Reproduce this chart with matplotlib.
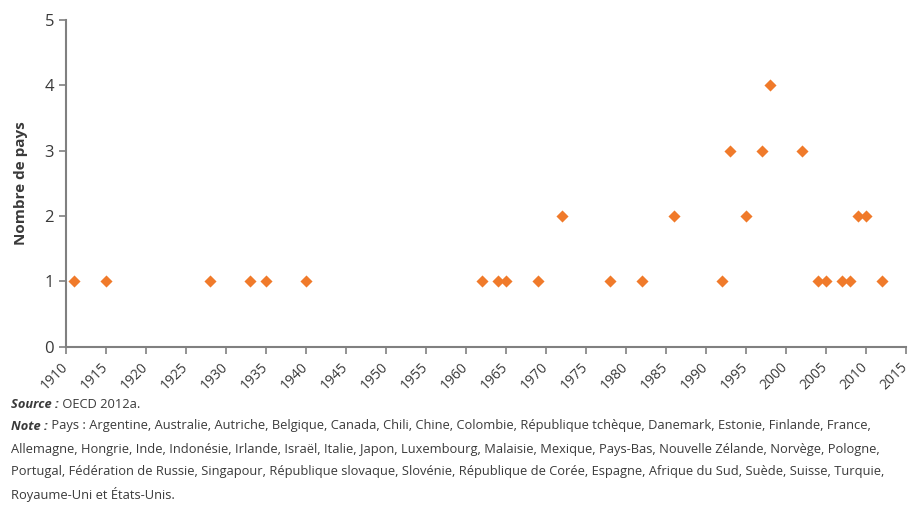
import matplotlib
matplotlib.use("Agg")
import matplotlib.pyplot as plt

plt.rcParams['font.family'] = ['Open Sans', 'DejaVu Sans']

# ===== données =====
annees = [1911, 1915, 1928, 1933, 1935, 1940,
          1962, 1964, 1965, 1969, 1972, 1978, 1982, 1986,
          1992, 1993, 1995, 1997, 1998, 2002,
          2004, 2005, 2007, 2008, 2009, 2010, 2012]
nb_pays = [1, 1, 1, 1, 1, 1,
           1, 1, 1, 1, 2, 1, 1, 2,
           1, 3, 2, 3, 4, 3,
           1, 1, 1, 1, 2, 2, 1]
x_ticks = list(range(1910, 2016, 5))
y_ticks = [0, 1, 2, 3, 4, 5]

source_txt = " OECD 2012a."
note_lignes = [
    " Pays : Argentine, Australie, Autriche, Belgique, Canada, Chili, Chine, Colombie, République tchèque, Danemark, Estonie, Finlande, France,",
    "Allemagne, Hongrie, Inde, Indonésie, Irlande, Israël, Italie, Japon, Luxembourg, Malaisie, Mexique, Pays-Bas, Nouvelle Zélande, Norvège, Pologne,",
    "Portugal, Fédération de Russie, Singapour, République slovaque, Slovénie, République de Corée, Espagne, Afrique du Sud, Suède, Suisse, Turquie,",
    "Royaume-Uni et États-Unis.",
]

gris = "#808080"
texte = "#3a3a3a"
orange = "#F07A2A"

fig = plt.figure(figsize=(9.14, 5.2), dpi=100)
ax = fig.add_axes([0.072, 0.333, 0.919, 0.629])

ax.scatter(annees, nb_pays, marker="D", s=38, color=orange, zorder=3, linewidths=0)

ax.set_xlim(1910, 2015)
ax.set_ylim(0, 5)
ax.set_xticks(x_ticks)
ax.set_yticks(y_ticks)
ax.set_xticklabels([str(t) for t in x_ticks], rotation=45, ha="right", va="center",
                   rotation_mode="anchor", fontsize=10, color=texte)
ax.set_yticklabels([str(t) for t in y_ticks], fontsize=12, color=texte)
ax.tick_params(axis="both", colors=gris, length=5, width=1.2, labelcolor=texte)
ax.tick_params(axis="x", pad=8)

for s in ["top", "right"]:
    ax.spines[s].set_visible(False)
for s in ["left", "bottom"]:
    ax.spines[s].set_color(gris)
    ax.spines[s].set_linewidth(1.5)

ax.set_ylabel("Nombre de pays", fontsize=11, fontweight="bold", color=texte, labelpad=12)

# ===== notes =====
fig.canvas.draw()
r = fig.canvas.get_renderer()
fs = 9.3

def ligne(y, gras, reste):
    t = fig.text(0.012, y, gras, fontsize=fs, style="italic", fontweight="bold",
                 color=texte, va="center")
    bb = t.get_window_extent(renderer=r)
    x2 = bb.x1 / fig.bbox.width
    fig.text(x2, y, reste, fontsize=fs, color=texte, va="center")

ligne(1 - 404 / 520, "Source :", source_txt)
ligne(1 - 426 / 520, "Note :", note_lignes[0])
for i, l in enumerate(note_lignes[1:]):
    fig.text(0.012, 1 - (449 + 23 * i) / 520, l, fontsize=fs, color=texte, va="center")

fig.savefig("out.png", dpi=100)
